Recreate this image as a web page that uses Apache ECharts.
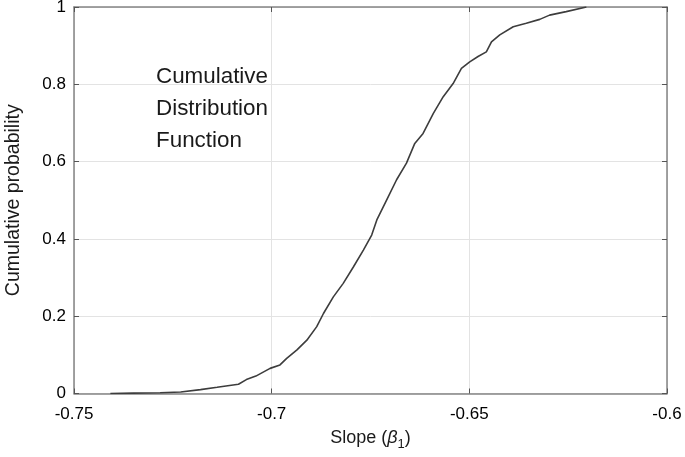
<!DOCTYPE html>
<html>
<head>
<meta charset="utf-8">
<script src="https://cdn.jsdelivr.net/npm/echarts@6/dist/echarts.min.js"></script>
<style>html,body{margin:0;padding:0;background:#fff}#c{width:685px;height:457px}</style>
</head>
<body>
<div id="c"></div>
<script>
var slopes = [-0.7408,-0.7350,-0.7282,-0.7230,-0.7180,-0.7138,-0.7084,-0.7064,-0.7040,-0.7004,-0.6979,-0.6962,-0.6936,-0.6911,-0.6886,-0.6869,-0.6844,-0.6819,-0.6793,-0.6768,-0.6747,-0.6734,-0.6709,-0.6684,-0.6659,-0.6638,-0.6617,-0.6591,-0.6566,-0.6541,-0.6520,-0.6499,-0.6478,-0.6457,-0.6444,-0.6423,-0.6389,-0.6356,-0.6322,-0.6297,-0.6255,-0.6204];
var cumProb = [0,0.001,0.002,0.004,0.010,0.016,0.024,0.036,0.045,0.065,0.074,0.091,0.113,0.138,0.173,0.207,0.250,0.285,0.328,0.371,0.410,0.449,0.501,0.553,0.596,0.647,0.673,0.725,0.768,0.802,0.841,0.858,0.872,0.884,0.910,0.928,0.949,0.958,0.968,0.979,0.988,1.0];
var xTicks = [-0.75,-0.7,-0.65,-0.6];
var yTicks = [0,0.2,0.4,0.6,0.8,1];
var annotation = ['Cumulative','Distribution','Function'];

var data = slopes.map(function(v,i){return [v,cumProb[i]];});
var font = 'Liberation Sans, Arial, sans-serif';
var axisLineC = '#858585';
var chart = echarts.init(document.getElementById('c'));
function xLab(v){ return String(Math.round(v*100)/100); }
chart.setOption({
  animation:false,
  grid:{left:74,right:18,top:7,bottom:63.5,containLabel:false,outerBoundsMode:'none'},
  xAxis:[{
    type:'value',min:-0.75,max:-0.6,interval:0.05,position:'bottom',
    name:'Slope ({i|β}{s|1})',nameLocation:'middle',nameGap:32,
    nameTextStyle:{fontFamily:font,fontSize:18,color:'#1a1a1a',rich:{
      i:{fontFamily:font,fontSize:18,fontStyle:'italic',color:'#1a1a1a'},
      s:{fontFamily:font,fontSize:13,color:'#1a1a1a',verticalAlign:'top',padding:[12,0,0,0]}}},
    axisLine:{show:true,onZero:false,lineStyle:{color:axisLineC,width:1.5}},
    axisTick:{show:true,inside:true,length:5,lineStyle:{color:'#555'}},
    axisLabel:{margin:12,fontFamily:font,fontSize:17,color:'#000',formatter:function(v){return xLab(v);}},
    splitLine:{show:true,lineStyle:{color:'#e3e3e3',width:1}}
  },{
    type:'value',min:-0.75,max:-0.6,interval:0.05,position:'top',
    axisLine:{show:true,onZero:false,lineStyle:{color:axisLineC,width:1.5}},
    axisTick:{show:true,inside:true,length:5,lineStyle:{color:'#555'}},
    axisLabel:{show:false},splitLine:{show:false}
  }],
  yAxis:[{
    type:'value',min:0,max:1,interval:0.2,position:'left',
    name:'Cumulative probability',nameLocation:'middle',nameGap:50,
    nameTextStyle:{fontFamily:font,fontSize:19.5,color:'#1a1a1a'},
    axisLine:{show:true,onZero:false,lineStyle:{color:axisLineC,width:1.5}},
    axisTick:{show:true,inside:true,length:5,lineStyle:{color:'#555'}},
    axisLabel:{margin:8,fontFamily:font,fontSize:17,color:'#000',formatter:function(v){return String(Math.round(v*10)/10);}},
    splitLine:{show:true,lineStyle:{color:'#e3e3e3',width:1}}
  },{
    type:'value',min:0,max:1,interval:0.2,position:'right',
    axisLine:{show:true,onZero:false,lineStyle:{color:axisLineC,width:1.5}},
    axisTick:{show:true,inside:true,length:5,lineStyle:{color:'#555'}},
    axisLabel:{show:false},splitLine:{show:false}
  }],
  graphic:[{
    type:'text',left:156,top:61,
    style:{text:annotation.join('\n'),fontFamily:font,fontSize:22.4,lineHeight:32,fill:'#1a1a1a'}
  }],
  series:[{
    type:'line',data:data,showSymbol:false,symbol:'none',xAxisIndex:0,yAxisIndex:0,
    lineStyle:{color:'#3d3d3d',width:1.6}
  }]
});
</script>
</body>
</html>
